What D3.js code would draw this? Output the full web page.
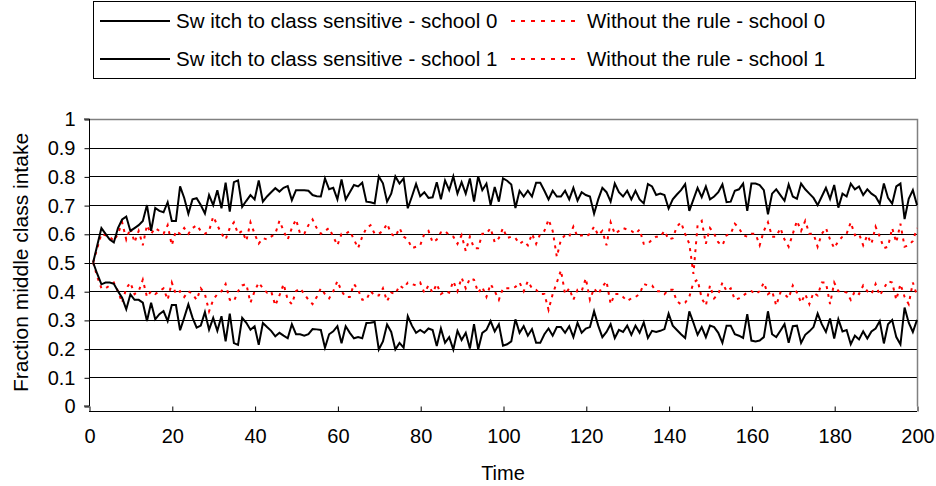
<!DOCTYPE html>
<html>
<head>
<meta charset="utf-8">
<script src="https://cdn.jsdelivr.net/npm/d3@7"></script>
<style>
  body { margin: 0; background: #fff; }
  svg { display: block; }
  text { font-family: "Liberation Sans", Arial, sans-serif; fill: #000; }
</style>
</head>
<body>
<svg id="chart" width="936" height="486"></svg>
<script>
// Legend labels for the four runs
const seriesLabels = [
  "Sw itch to class sensitive - school 0",
  "Sw itch to class sensitive - school 1",
  "Without the rule - school 0",
  "Without the rule - school 1"
];

// Fraction of middle-class intake per time step (t = 1..200)
const switchSchool0 = [
  0.50, 0.56, 0.62, 0.60, 0.58, 0.57, 0.62, 0.65, 0.66, 0.61, 0.62, 0.63, 0.645, 0.70, 0.61, 0.69, 0.68, 0.675, 0.71, 0.645, 0.645, 0.765, 0.725, 0.67, 0.72,
  0.724, 0.70, 0.671, 0.735, 0.70, 0.752, 0.689, 0.778, 0.677, 0.78, 0.786, 0.694, 0.715, 0.735, 0.72, 0.786, 0.712, 0.73, 0.745, 0.759, 0.747, 0.76, 0.766, 0.717, 0.752, 0.752,
  0.752, 0.75, 0.735, 0.731, 0.73, 0.793, 0.755, 0.76, 0.72, 0.789, 0.72, 0.745, 0.77, 0.765, 0.778, 0.712, 0.71, 0.706, 0.8, 0.776, 0.712, 0.74, 0.8, 0.775, 0.793,
  0.689, 0.73, 0.774, 0.731, 0.745, 0.725, 0.727, 0.78, 0.72, 0.786, 0.752, 0.8, 0.74, 0.78, 0.74, 0.793, 0.712, 0.8, 0.752, 0.775, 0.7, 0.763, 0.712, 0.793, 0.785,
  0.772, 0.69, 0.75, 0.73, 0.75, 0.73, 0.778, 0.778, 0.75, 0.72, 0.75, 0.73, 0.73, 0.75, 0.72, 0.76, 0.716, 0.745, 0.735, 0.73, 0.67, 0.72, 0.76, 0.745, 0.712, 0.775,
  0.745, 0.73, 0.75, 0.72, 0.75, 0.72, 0.706, 0.773, 0.765, 0.735, 0.74, 0.735, 0.688, 0.72, 0.737, 0.752, 0.773, 0.68, 0.72, 0.76, 0.728, 0.765, 0.72, 0.73, 0.745,
  0.772, 0.71, 0.712, 0.75, 0.755, 0.775, 0.68, 0.775, 0.775, 0.77, 0.752, 0.668, 0.74, 0.755, 0.735, 0.715, 0.772, 0.73, 0.722, 0.775, 0.755, 0.74, 0.725, 0.70, 0.73,
  0.76, 0.722, 0.77, 0.691, 0.74, 0.73, 0.775, 0.755, 0.765, 0.735, 0.755, 0.74, 0.73, 0.705, 0.775, 0.725, 0.705, 0.765, 0.775, 0.651, 0.722, 0.752, 0.70
];

const switchSchool1 = [
  0.50, 0.46, 0.424, 0.43, 0.43, 0.426, 0.40, 0.377, 0.337, 0.389, 0.37, 0.37, 0.36, 0.296, 0.36, 0.302, 0.32, 0.331, 0.296, 0.352, 0.352, 0.264, 0.308, 0.354, 0.308,
  0.273, 0.28, 0.327, 0.266, 0.307, 0.262, 0.313, 0.225, 0.322, 0.219, 0.213, 0.307, 0.29, 0.266, 0.278, 0.213, 0.289, 0.275, 0.262, 0.243, 0.255, 0.245, 0.236, 0.285, 0.25, 0.25,
  0.245, 0.25, 0.268, 0.267, 0.265, 0.203, 0.25, 0.26, 0.278, 0.219, 0.278, 0.255, 0.236, 0.24, 0.236, 0.289, 0.29, 0.293, 0.197, 0.225, 0.284, 0.258, 0.197, 0.22, 0.203,
  0.313, 0.28, 0.255, 0.265, 0.255, 0.27, 0.265, 0.209, 0.27, 0.22, 0.24, 0.197, 0.262, 0.23, 0.255, 0.2, 0.285, 0.197, 0.255, 0.265, 0.296, 0.26, 0.285, 0.21, 0.215,
  0.225, 0.302, 0.255, 0.278, 0.245, 0.268, 0.22, 0.22, 0.25, 0.27, 0.245, 0.275, 0.275, 0.255, 0.278, 0.24, 0.29, 0.255, 0.27, 0.275, 0.33, 0.28, 0.24, 0.258, 0.285, 0.237,
  0.265, 0.258, 0.28, 0.248, 0.28, 0.255, 0.291, 0.237, 0.262, 0.258, 0.262, 0.268, 0.322, 0.28, 0.265, 0.25, 0.237, 0.33, 0.29, 0.248, 0.275, 0.24, 0.28, 0.275, 0.255,
  0.22, 0.28, 0.28, 0.25, 0.245, 0.237, 0.32, 0.228, 0.225, 0.228, 0.24, 0.33, 0.25, 0.24, 0.262, 0.285, 0.22, 0.278, 0.28, 0.22, 0.248, 0.26, 0.275, 0.322, 0.285,
  0.258, 0.305, 0.235, 0.302, 0.26, 0.265, 0.215, 0.245, 0.232, 0.26, 0.235, 0.26, 0.27, 0.296, 0.218, 0.285, 0.3, 0.24, 0.215, 0.343, 0.29, 0.258, 0.3
];

const noRuleSchool0 = [
  0.50, 0.55, 0.60, 0.595, 0.59, 0.575, 0.60, 0.64, 0.58, 0.62, 0.57, 0.61, 0.56, 0.63, 0.60, 0.62, 0.61, 0.60, 0.63, 0.56, 0.61, 0.60, 0.62, 0.60, 0.62,
  0.63, 0.61, 0.60, 0.61, 0.66, 0.63, 0.60, 0.58, 0.62, 0.64, 0.60, 0.61, 0.575, 0.64, 0.60, 0.566, 0.585, 0.58, 0.59, 0.60, 0.645, 0.61, 0.58, 0.62, 0.65, 0.60,
  0.60, 0.63, 0.65, 0.62, 0.60, 0.61, 0.62, 0.59, 0.56, 0.60, 0.60, 0.61, 0.58, 0.55, 0.59, 0.62, 0.63, 0.60, 0.60, 0.61, 0.635, 0.60, 0.59, 0.62, 0.59,
  0.58, 0.55, 0.555, 0.56, 0.60, 0.61, 0.57, 0.58, 0.605, 0.61, 0.595, 0.59, 0.565, 0.595, 0.54, 0.59, 0.55, 0.55, 0.60, 0.60, 0.62, 0.57, 0.585, 0.62, 0.585,
  0.59, 0.585, 0.565, 0.575, 0.56, 0.60, 0.565, 0.60, 0.61, 0.65, 0.61, 0.52, 0.58, 0.595, 0.59, 0.625, 0.59, 0.595, 0.59, 0.60, 0.625, 0.595, 0.61, 0.56, 0.64, 0.60,
  0.61, 0.62, 0.615, 0.61, 0.60, 0.615, 0.565, 0.565, 0.58, 0.59, 0.59, 0.61, 0.58, 0.585, 0.625, 0.64, 0.60, 0.565, 0.46, 0.63, 0.645, 0.565, 0.62, 0.60, 0.57,
  0.56, 0.595, 0.60, 0.635, 0.62, 0.595, 0.59, 0.60, 0.60, 0.56, 0.61, 0.64, 0.59, 0.59, 0.62, 0.58, 0.555, 0.60, 0.645, 0.61, 0.645, 0.60, 0.60, 0.555, 0.60,
  0.62, 0.58, 0.55, 0.575, 0.59, 0.60, 0.64, 0.595, 0.60, 0.56, 0.595, 0.565, 0.625, 0.59, 0.55, 0.555, 0.62, 0.57, 0.635, 0.555, 0.56, 0.575, 0.62
];

const noRuleSchool1 = [
  0.50, 0.45, 0.41, 0.41, 0.42, 0.43, 0.40, 0.36, 0.41, 0.43, 0.39, 0.40, 0.44, 0.38, 0.40, 0.39, 0.40, 0.41, 0.37, 0.43, 0.39, 0.40, 0.38, 0.40, 0.39,
  0.37, 0.41, 0.39, 0.33, 0.37, 0.39, 0.40, 0.425, 0.37, 0.365, 0.40, 0.42, 0.425, 0.36, 0.40, 0.43, 0.41, 0.395, 0.40, 0.35, 0.385, 0.425, 0.37, 0.355, 0.40, 0.41,
  0.39, 0.37, 0.355, 0.38, 0.41, 0.39, 0.375, 0.40, 0.435, 0.40, 0.38, 0.38, 0.425, 0.405, 0.37, 0.37, 0.40, 0.385, 0.385, 0.41, 0.365, 0.395, 0.39, 0.42, 0.41,
  0.43, 0.425, 0.42, 0.43, 0.395, 0.42, 0.395, 0.425, 0.39, 0.40, 0.395, 0.435, 0.40, 0.447, 0.41, 0.445, 0.44, 0.395, 0.415, 0.38, 0.425, 0.40, 0.37, 0.41, 0.41,
  0.41, 0.415, 0.43, 0.40, 0.435, 0.41, 0.405, 0.39, 0.39, 0.335, 0.39, 0.43, 0.473, 0.39, 0.41, 0.37, 0.405, 0.40, 0.445, 0.37, 0.41, 0.39, 0.415, 0.435, 0.355, 0.39,
  0.39, 0.38, 0.366, 0.375, 0.38, 0.39, 0.425, 0.42, 0.42, 0.40, 0.40, 0.39, 0.405, 0.405, 0.365, 0.354, 0.36, 0.38, 0.43, 0.44, 0.375, 0.35, 0.42, 0.375, 0.39,
  0.43, 0.40, 0.41, 0.37, 0.375, 0.385, 0.395, 0.40, 0.39, 0.40, 0.43, 0.39, 0.40, 0.35, 0.395, 0.39, 0.375, 0.42, 0.395, 0.36, 0.39, 0.355, 0.395, 0.385, 0.43,
  0.43, 0.355, 0.43, 0.40, 0.40, 0.395, 0.37, 0.40, 0.39, 0.42, 0.40, 0.39, 0.425, 0.385, 0.41, 0.435, 0.43, 0.37, 0.425, 0.38, 0.355, 0.43, 0.385
];

const yTickValues = [0, 0.1, 0.2, 0.3, 0.4, 0.5, 0.6, 0.7, 0.8, 0.9, 1];
const xTickValues = [0, 20, 40, 60, 80, 100, 120, 140, 160, 180, 200];
const xTitle = "Time";
const yTitle = "Fraction middle class intake";

const svg = d3.select("#chart");
const plot = { left: 89, right: 917, top: 119, bottom: 406 };
const FONT = '"Liberation Sans", Arial, sans-serif';

const x = d3.scaleLinear().domain([0, 200]).range([plot.left, plot.right]);
const y = d3.scaleLinear().domain([0, 1]).range([plot.bottom, plot.top]);
const crisp = v => Math.round(v) + 0.5;

// Horizontal gridlines
svg.append("g")
  .selectAll("line")
  .data(yTickValues.filter(v => v > 0 && v < 1))
  .join("line")
  .attr("x1", plot.left).attr("x2", plot.right)
  .attr("y1", d => crisp(y(d))).attr("y2", d => crisp(y(d)))
  .attr("stroke", "#000").attr("stroke-width", 1);

// Plot-area border (top and right edges)
svg.append("path")
  .attr("d", `M${plot.left},${crisp(y(1))}H${crisp(x(200))}V${crisp(y(0))}`)
  .attr("fill", "none").attr("stroke", "#808080").attr("stroke-width", 1.5);

// Series lines
const t = d3.range(1, 201);
const line = d3.line().x((d, i) => x(t[i])).y(d => y(d));

const series = [
  { values: noRuleSchool0, color: "#ff0000", dash: "3,5", width: 2 },
  { values: noRuleSchool1, color: "#ff0000", dash: "3,5", width: 2 },
  { values: switchSchool0, color: "#000", dash: null, width: 2 },
  { values: switchSchool1, color: "#000", dash: null, width: 2 }
];

svg.append("g")
  .selectAll("path")
  .data(series)
  .join("path")
  .attr("d", d => line(d.values))
  .attr("fill", "none")
  .attr("stroke", d => d.color)
  .attr("stroke-width", d => d.width)
  .attr("stroke-dasharray", d => d.dash)
  .attr("stroke-linejoin", "miter");

// Axes
const yAxis = d3.axisLeft(y)
  .tickValues(yTickValues)
  .tickFormat(d => String(d))
  .tickSize(5)
  .tickPadding(9);
const gy = svg.append("g")
  .attr("transform", `translate(${crisp(x(0))},0.5)`)
  .call(yAxis);

const xAxis = d3.axisBottom(x)
  .tickValues(xTickValues)
  .tickFormat(d => String(d))
  .tickSize(5)
  .tickPadding(17);
const gx = svg.append("g")
  .attr("transform", `translate(0.5,${crisp(y(0))})`)
  .call(xAxis);

[gx, gy].forEach(g => {
  g.select(".domain").attr("stroke", "#000").attr("stroke-width", 1);
  g.selectAll(".tick line").attr("stroke", "#000");
  g.selectAll(".tick text")
    .attr("fill", "#000")
    .style("font-family", FONT)
    .style("font-size", "20px");
});
gy.select(".domain").attr("d", `M-5.5,${y(1) - 0.5}H0V${y(0) - 0.5}H-5.5`);
gx.select(".domain").attr("d", `M${x(0) - 0.5},5H${x(0) - 0.5}H${x(200) - 0.5}V5`);

// Axis titles
svg.append("text")
  .attr("x", (plot.left + plot.right) / 2)
  .attr("y", 480)
  .attr("text-anchor", "middle")
  .style("font-size", "20px")
  .text(xTitle);

svg.append("text")
  .attr("transform", `translate(28,${(plot.top + plot.bottom) / 2}) rotate(-90)`)
  .attr("text-anchor", "middle")
  .style("font-size", "21px")
  .text(yTitle);

// Legend
const legend = svg.append("g");
legend.append("rect")
  .attr("x", 93.5).attr("y", 1.5)
  .attr("width", 822).attr("height", 77)
  .attr("fill", "#fff").attr("stroke", "#000").attr("stroke-width", 1);

const legendItems = [
  { label: seriesLabels[0], color: "#000", dash: null, lx: 100, row: 0 },
  { label: seriesLabels[1], color: "#000", dash: null, lx: 100, row: 1 },
  { label: seriesLabels[2], color: "#ff0000", dash: "4,6", lx: 511, row: 0 },
  { label: seriesLabels[3], color: "#ff0000", dash: "4,6", lx: 511, row: 1 }
];
const rowY = [21, 59];

const li = legend.selectAll("g.item")
  .data(legendItems)
  .join("g")
  .attr("class", "item");
li.append("line")
  .attr("x1", d => d.lx).attr("x2", d => d.lx + 70)
  .attr("y1", d => rowY[d.row]).attr("y2", d => rowY[d.row])
  .attr("stroke", d => d.color)
  .attr("stroke-width", 2)
  .attr("stroke-dasharray", d => d.dash);
li.append("text")
  .attr("x", d => d.lx + 76)
  .attr("y", d => rowY[d.row])
  .attr("dy", "0.35em")
  .style("font-size", "20.5px")
  .text(d => d.label);
</script>
</body>
</html>
